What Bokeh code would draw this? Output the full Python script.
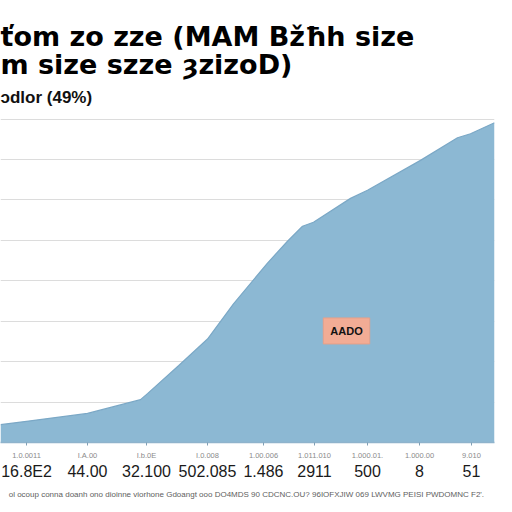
from bokeh.plotting import figure
from bokeh.models import LinearAxis, FixedTicker, Grid, Title, Label, Range1d
from bokeh.embed import file_html
from bokeh.resources import INLINE

# ---- data ----
x_vals = [0, 28, 87, 140, 147, 178, 207, 233, 267, 287, 302, 313, 350, 367, 420, 457, 470, 494]
y_vals = [4.4, 5.3, 7.2, 10.6, 12.1, 19.0, 25.6, 34.3, 44.4, 49.8, 53.5, 54.5, 60.4, 62.4, 69.8, 75.4, 76.4, 79.1]
x_ticks = [26, 87, 146, 207, 263, 314, 367, 419, 471]
tick_small = ["1.0.0011", "I.A.00", "I.b.0E", "I.0.008", "1.00.006", "1.011.010", "1.000.01.", "1.000.00", "9.010"]
tick_big = ["16.8E2", "44.00", "32.100", "502.085", "1.486", "2911", "500", "8", "51"]
y_grid = [10, 20, 30, 40, 50, 60, 70, 80]
title_1 = "ťom zo zze (MAM Bžħh size"
title_2 = "m size szze ȝzizoD)"
subtitle = "ɔdlor (49%)"
note = "ol ocoup conna doanh ono dioinne viorhone Gdoangt ooo  DO4MDS 90 CDCNC.OU? 96IOFXJIW 069 LWVMG PEISI PWDOMNC F2'."
box_text = "AADO"
box_pos = (346, 27.6)

FONT = "Liberation Sans"
TFONT = "DejaVu Sans"

p = figure(width=512, height=512, output_backend="svg", toolbar_location=None,
           x_axis_location=None, y_axis_location=None,
           x_range=Range1d(0, 494), y_range=Range1d(0, 81.4),
           min_border_left=0, min_border_right=18, min_border_top=112, min_border_bottom=70,
           outline_line_color=None, background_fill_color="white", border_fill_color="white")
p.center = []

p.add_layout(Grid(dimension=1, ticker=FixedTicker(ticks=y_grid),
                  grid_line_color="#dcdcdc", grid_line_width=1.2))

p.varea(x=x_vals, y1=0, y2=y_vals, fill_color="#8cb8d3", fill_alpha=1)
p.line(x=x_vals, y=y_vals, line_color="#7ba8c6", line_width=1.2)

ax1 = LinearAxis(ticker=FixedTicker(ticks=x_ticks),
                 major_label_overrides={t: s for t, s in zip(x_ticks, tick_small)},
                 major_label_text_font=FONT, major_label_text_font_size="7.5px",
                 major_label_text_color="#8a8a8a", major_label_standoff=5,
                 axis_line_color="#8fb3cc", axis_line_width=1.5,
                 major_tick_line_color="#7f9fb5", major_tick_out=3, major_tick_in=0,
                 minor_tick_line_color=None)
ax2 = LinearAxis(ticker=FixedTicker(ticks=x_ticks),
                 major_label_overrides={t: s for t, s in zip(x_ticks, tick_big)},
                 major_label_text_font="Liberation Sans Narrow, Liberation Sans",
                 major_label_text_font_size="16px", major_label_text_color="#1a1a1a",
                 major_label_standoff=-6, axis_line_color=None,
                 major_tick_line_color=None, minor_tick_line_color=None,
                 axis_label=note, axis_label_text_font=FONT,
                 axis_label_text_font_size="8px", axis_label_text_font_style="normal",
                 axis_label_text_color="#5e5e5e", axis_label_standoff=7)
p.add_layout(ax1, "below")
p.add_layout(ax2, "below")

p.add_layout(Title(text=subtitle, text_font=FONT, text_font_size="17px",
                   text_font_style="bold", text_color="#111111", align="left",
                   standoff=13), "above")
p.add_layout(Title(text=title_2, text_font=TFONT, text_font_size="27px",
                   text_font_style="bold", text_color="#000000", align="left",
                   standoff=-1), "above")
p.add_layout(Title(text=title_1, text_font=TFONT, text_font_size="27px",
                   text_font_style="bold", text_color="#000000", align="left",
                   standoff=-8), "above")
p.add_layout(Title(text=" ", text_font=FONT, text_font_size="18px", standoff=0), "above")

p.add_layout(Label(x=box_pos[0], y=box_pos[1], text=box_text, text_font=FONT,
                   text_font_size="11px", text_font_style="bold", text_color="#111111",
                   text_align="center", text_baseline="middle",
                   background_fill_color="#f2ac95", background_fill_alpha=1,
                   border_line_color="#e6a08a", padding=7))

open("out.html", "w").write(file_html(p, INLINE))
